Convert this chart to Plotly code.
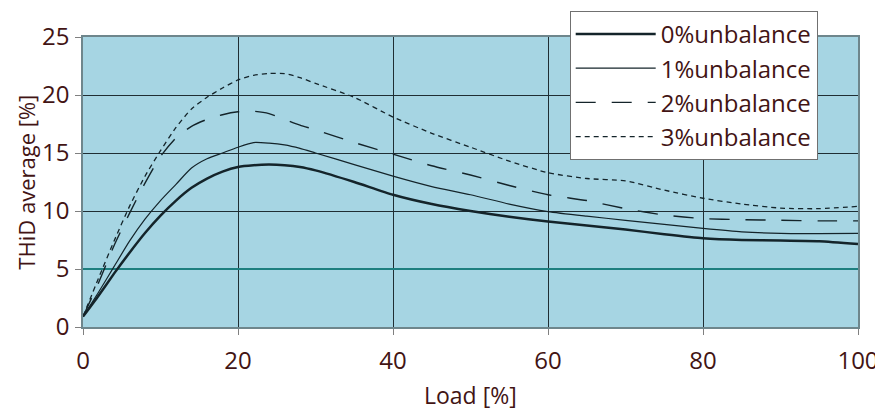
import plotly.graph_objects as go

load = [0, 2, 4, 6, 8, 10, 12, 14, 16, 18, 20, 22, 24, 26, 28, 30, 35, 40, 45, 50,
        55, 60, 65, 70, 75, 80, 85, 90, 95, 100]
thd_0 = [0.9, 2.7, 4.6, 6.4, 8.1, 9.6, 10.9, 12.0, 12.8, 13.4, 13.8, 13.95, 14.0, 13.95, 13.8,
         13.5, 12.5, 11.4, 10.6, 10.0, 9.5, 9.1, 8.75, 8.4, 8.0, 7.65, 7.5, 7.45, 7.4, 7.15]
thd_1 = [0.9, 3.0, 5.2, 7.4, 9.3, 10.9, 12.3, 13.7, 14.5, 15.0, 15.5, 15.9, 15.85, 15.7, 15.4,
         15.0, 14.0, 13.0, 12.1, 11.4, 10.6, 9.95, 9.55, 9.2, 8.85, 8.5, 8.2, 8.07, 8.05, 8.07]
thd_2 = [0.9, 3.8, 7.0, 9.8, 12.4, 14.7, 16.3, 17.3, 17.9, 18.3, 18.55, 18.6, 18.4, 17.9, 17.4,
         17.0, 15.9, 14.9, 13.9, 13.1, 12.2, 11.4, 10.9, 10.2, 9.65, 9.35, 9.25, 9.2, 9.15, 9.15]
thd_3 = [0.9, 4.2, 7.4, 10.4, 13.0, 15.2, 17.2, 18.8, 19.8, 20.6, 21.3, 21.7, 21.85, 21.85, 21.5,
         21.0, 19.8, 18.1, 16.7, 15.5, 14.3, 13.3, 12.8, 12.6, 11.8, 11.1, 10.6, 10.25, 10.2, 10.4]
names = ["0%unbalance", "1%unbalance", "2%unbalance", "3%unbalance"]
x_ticks = [0, 20, 40, 60, 80, 100]
y_ticks = [0, 5, 10, 15, 20, 25]
x_title = "Load [%]"
y_title = "THiD average [%]"

txt = "#421414"
line_col = "#14242a"
styles = [dict(width=2.5, dash="solid"),
          dict(width=1.2, dash="solid"),
          dict(width=1.4, dash="20px,16px"),
          dict(width=1.3, dash="5px,4px")]

fig = go.Figure()
for name, ys, st in zip(names, [thd_0, thd_1, thd_2, thd_3], styles):
    fig.add_trace(go.Scatter(x=load, y=ys, name=name, mode="lines",
                             line=dict(color=line_col, shape="spline", smoothing=0.6, **st)))

fig.add_shape(type="line", xref="x", yref="y", x0=0, x1=100, y0=5, y1=5,
              line=dict(color="#1d7f7f", width=1.8), layer="between")

fig.add_annotation(text=x_title, xref="paper", yref="paper", x=0.5, y=-0.236,
                   xanchor="center", yanchor="middle", showarrow=False,
                   font=dict(size=23, color=txt))
fig.add_annotation(text=y_title, xref="paper", yref="paper", x=-0.074, y=0.5,
                   xanchor="center", yanchor="middle", showarrow=False, textangle=-90,
                   borderpad=0, font=dict(size=22, color=txt))

# the page body adds an 8px offset, so the figure is sized/margined to compensate
fig.update_layout(
    width=875, height=404,
    margin=dict(l=75, r=25, t=29, b=85, autoexpand=False),
    paper_bgcolor="white",
    plot_bgcolor="#a6d5e3",
    font=dict(family="Open Sans", size=24, color=txt),
    legend=dict(x=0.628, y=1.09, xanchor="left", yanchor="top",
                bgcolor="white", bordercolor="#707070", borderwidth=1,
                font=dict(size=24, color=txt), itemwidth=80, tracegroupgap=0),
    xaxis=dict(range=[0, 100], tickvals=x_ticks, showgrid=True, gridcolor="#1f2e33",
               gridwidth=1.3, zeroline=False, ticks="outside", ticklen=6, tickcolor="#808080",
               showline=True, linecolor="#6e868c", linewidth=1.5, mirror=True,
               ticklabelstandoff=5, automargin=False),
    yaxis=dict(range=[0, 25], tickvals=y_ticks, showgrid=True, gridcolor="#1f2e33",
               gridwidth=1.3, zeroline=False, ticks="outside", ticklen=6, tickcolor="#808080",
               showline=True, linecolor="#6e868c", linewidth=1.5, mirror=True,
               ticklabelstandoff=1, automargin=False),
)

fig.write_html("out.html")
